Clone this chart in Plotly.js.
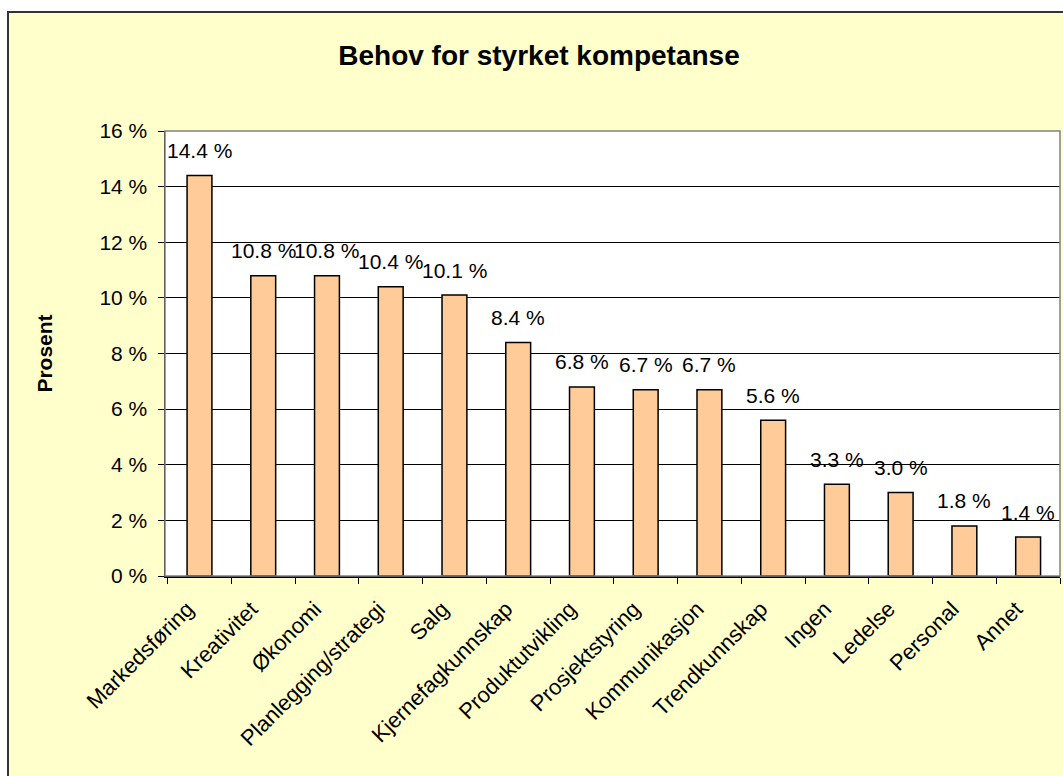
<!DOCTYPE html>
<html>
<head>
<meta charset="utf-8">
<script src="https://cdn.plot.ly/plotly-3.0.1.min.js"></script>
<style>
  html, body { margin: 0; padding: 0; background: #ffffff; overflow: hidden; }
  #frame { position: absolute; left: 7px; top: 11px; width: 1080px; height: 800px; border: 2px solid #333; background: #FFFFCC; }
  #chart { position: absolute; left: 9px; top: 13px; width: 1060px; height: 770px; }
</style>
</head>
<body>
<div id="frame"></div>
<div id="chart"></div>
<script>
const categories = ["Markedsføring", "Kreativitet", "Økonomi", "Planlegging/strategi", "Salg", "Kjernefagkunnskap", "Produktutvikling", "Prosjektstyring", "Kommunikasjon", "Trendkunnskap", "Ingen", "Ledelse", "Personal", "Annet"];
const values = [14.4, 10.8, 10.8, 10.4, 10.1, 8.4, 6.8, 6.7, 6.7, 5.6, 3.3, 3.0, 1.8, 1.4];
const labels = ["14.4 %", "10.8 %", "10.8 %", "10.4 %", "10.1 %", "8.4 %", "6.8 %", "6.7 %", "6.7 %", "5.6 %", "3.3 %", "3.0 %", "1.8 %", "1.4 %"];
const yTickVals = [0, 2, 4, 6, 8, 10, 12, 14, 16];
const yTickText = ["0 %", "2 %", "4 %", "6 %", "8 %", "10 %", "12 %", "14 %", "16 %"];

const font = "Liberation Sans, Arial, sans-serif";

const trace = {
  type: "bar",
  x: categories,
  y: values,
  marker: { color: "#FFCC99", line: { color: "#000000", width: 1.5 } },
  hoverinfo: "skip"
};

const annotations = categories.map((c, i) => ({
  x: c, y: values[i], xref: "x", yref: "y",
  text: labels[i], showarrow: false,
  yanchor: "middle", xanchor: "center", yshift: 25,
  font: { family: font, size: 21, color: "#000" }
}));

const layout = {
  width: 1060, height: 770,
  paper_bgcolor: "rgba(0,0,0,0)",
  plot_bgcolor: "#FFFFFF",
  margin: { l: 156, r: 9, t: 118, b: 207 },
  bargap: 0.61,
  showlegend: false,
  title: { text: "Behov for styrket kompetanse", font: { family: font, size: 28, color: "#000", weight: "bold" }, x: 0.5, xanchor: "center", y: 1 - 42/770, yanchor: "middle", yref: "container" },
  xaxis: {
    type: "category",
    tickangle: -45,
    tickson: "boundaries",
    ticks: "outside", ticklen: 6, tickcolor: "#000", tickwidth: 1,
    ticklabelstandoff: 10,
    ticklabelshift: -12,
    showline: true, linecolor: "#000", linewidth: 1.5,
    showgrid: false,
    tickfont: { family: font, size: 22, color: "#000" },
    mirror: false
  },
  yaxis: {
    range: [0, 16],
    tickvals: yTickVals, ticktext: yTickText,
    ticks: "outside", ticklen: 6, tickcolor: "#000",
    ticklabelstandoff: 6,
    showline: true, linecolor: "#000", linewidth: 1.5,
    showgrid: true, gridcolor: "#000", gridwidth: 1,
    zeroline: false,
    tickfont: { family: font, size: 21, color: "#000" },
    title: { text: "Prosent", font: { family: font, size: 21, color: "#000", weight: "bold" }, standoff: 41 }
  },
  shapes: [
    { type: "rect", xref: "paper", yref: "paper", x0: 0, x1: 1, y0: 0, y1: 1, line: { color: "#808080", width: 1.5 }, layer: "above" }
  ],
  annotations: annotations
};

Plotly.newPlot("chart", [trace], layout, { staticPlot: true, displayModeBar: false });
</script>
</body>
</html>
